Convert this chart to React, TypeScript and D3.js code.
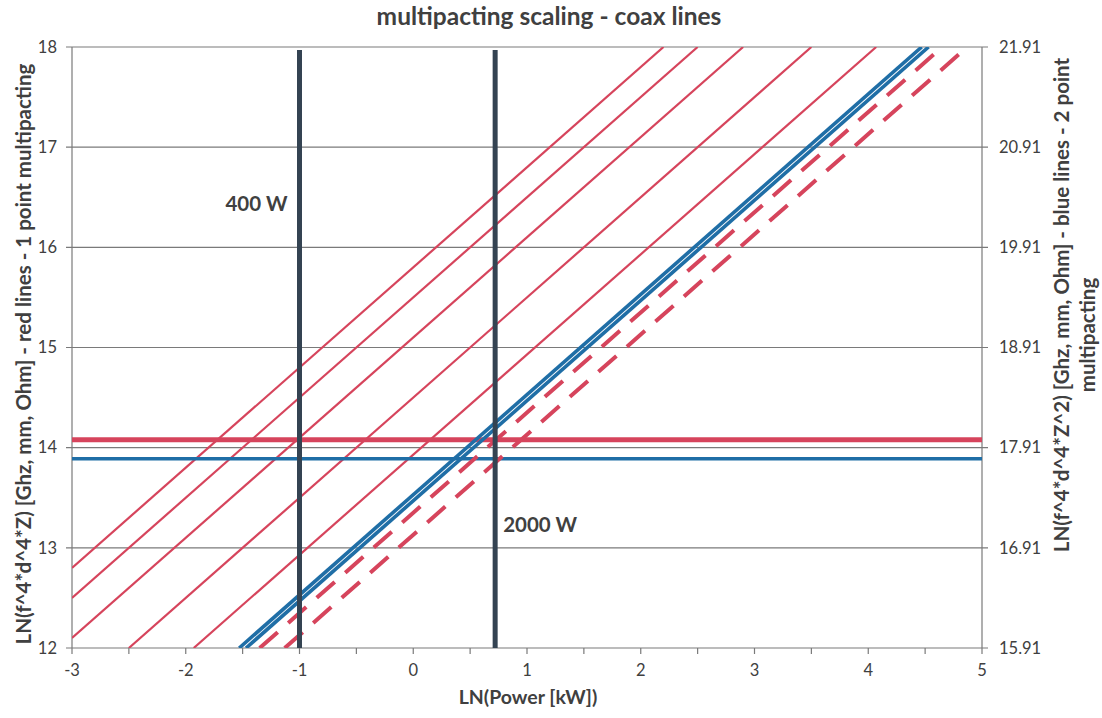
import React from "react";
import * as d3 from "d3";

// values
const xTicks = [-3, -2, -1, 0, 1, 2, 3, 4, 5];
const xMinorTicks = [-2.5, -1.5, -0.5, 0.5, 1.5, 2.5, 3.5, 4.5];
const yTicks = [12, 13, 14, 15, 16, 17, 18];
const yRightLabels = ["15.91", "16.91", "17.91", "18.91", "19.91", "20.91", "21.91"];

// 1 point multipacting (thin red)
const redLines: [number, number][][] = [
  [[-3, 12.8], [2.2, 18]],
  [[-3, 12.5], [2.5, 18]],
  [[-3, 12.1], [2.9, 18]],
  [[-2.5, 12], [3.5, 18]],
  [[-1.93, 12], [4.07, 18]],
];
// 2 point multipacting (blue pair)
const blueLines: [number, number][][] = [
  [[-1.53, 12], [4.47, 18]],
  [[-1.47, 12], [4.53, 18]],
];
const dashedLines: [number, number][][] = [
  [[-1.35, 12], [4.65, 18]],
  [[-1.13, 12], [4.87, 18]],
];
const redLevel: [number, number][] = [[-3, 14.08], [5, 14.08]];
const blueLevel: [number, number][] = [[-3, 13.89], [5, 13.89]];
const powerMarks = [
  { x: -1, label: "400 W" },
  { x: 0.72, label: "2000 W" },
];

const RED = "#d6445c";
const BLUE = "#1f6ea6";
const DARK = "#344352";
const TXT = "#404040";
const FONT = "Lato, 'Open Sans', sans-serif";

export default function App() {
  const W = 1102, H = 718;
  const margin = { top: 47, right: 120, bottom: 70, left: 72 };
  const width = 982 - margin.left, height = 648 - margin.top;

  const x = d3.scaleLinear().domain([-3, 5]).range([0, width]);
  const y = d3.scaleLinear().domain([12, 18]).range([height, 0]);
  const line = d3.line<[number, number]>().x(d => x(d[0])).y(d => y(d[1]));

  return (
    <svg width={W} height={H} style={{ position: "absolute", left: 0, top: 0, background: "#fff" }}>
      <text x={549} y={25} textAnchor="middle" fontFamily={FONT} fontWeight="bold" fontSize={24.5} fill={TXT}>
        multipacting scaling - coax lines
      </text>
      <g transform={`translate(${margin.left},${margin.top})`}>
        <defs>
          <clipPath id="plot">
            <rect x={0} y={0} width={width} height={height} />
          </clipPath>
        </defs>
        {yTicks.map(t => (
          <g key={t}>
            <line x1={-6} x2={width + 6} y1={y(t)} y2={y(t)} stroke="#7a7a7a" strokeWidth={1.2} />
            <text x={-15} y={y(t)} dy="0.35em" textAnchor="end" fontFamily={FONT} fontSize={16.5} fill={TXT}>{t}</text>
          </g>
        ))}
        {yRightLabels.map((l, i) => (
          <text key={l} x={width + 17} y={y(yTicks[i])} dy="0.35em" fontFamily={FONT} fontSize={16.5} fill={TXT}>{l}</text>
        ))}
        <line x1={0} x2={0} y1={0} y2={height} stroke="#7a7a7a" strokeWidth={1.2} />
        <line x1={width} x2={width} y1={0} y2={height} stroke="#7a7a7a" strokeWidth={1.2} />
        {xTicks.concat(xMinorTicks).map(t => (
          <line key={t} x1={x(t)} x2={x(t)} y1={height} y2={height + 6} stroke="#7a7a7a" strokeWidth={1.2} />
        ))}
        {xTicks.map(t => (
          <text key={t} x={x(t)} y={height + 28} textAnchor="middle" fontFamily={FONT} fontSize={16.5} fill={TXT}>{t}</text>
        ))}

        <g clipPath="url(#plot)" fill="none">
          {redLines.map((d, i) => (
            <path key={i} d={line(d) || ""} stroke={RED} strokeWidth={2.2} />
          ))}
          <path d={line(redLevel) || ""} stroke={RED} strokeWidth={5} />
          <path d={line(blueLevel) || ""} stroke={BLUE} strokeWidth={3.5} />
          {dashedLines.map((d, i) => (
            <path key={i} d={line(d) || ""} stroke={RED} strokeWidth={4} strokeDasharray="24 14" />
          ))}
          {blueLines.map((d, i) => (
            <path key={i} d={line(d) || ""} stroke={BLUE} strokeWidth={3.6} />
          ))}
          {powerMarks.map(m => (
            <line key={m.x} x1={x(m.x)} x2={x(m.x)} y1={y(17.97)} y2={height} stroke={DARK} strokeWidth={5} />
          ))}
        </g>

        <text x={x(powerMarks[0].x) - 12} y={y(16.36)} textAnchor="end" fontFamily={FONT} fontWeight="bold" fontSize={20.5} fill={TXT}>
          {powerMarks[0].label}
        </text>
        <text x={x(powerMarks[1].x) + 8} y={y(13.16)} fontFamily={FONT} fontWeight="bold" fontSize={20.5} fill={TXT}>
          {powerMarks[1].label}
        </text>
      </g>

      <text x={528} y={704} textAnchor="middle" fontFamily={FONT} fontWeight="bold" fontSize={19.5} fill={TXT}>
        LN(Power [kW])
      </text>
      <text transform="translate(31,354) rotate(-90)" textAnchor="middle" fontFamily={FONT} fontWeight="bold" fontSize={20.5} fill={TXT}>
        LN(f^4*d^4*Z) [Ghz, mm, Ohm] - red lines - 1 point multipacting
      </text>
      <text transform="translate(1069,305) rotate(-90)" textAnchor="middle" fontFamily={FONT} fontWeight="bold" fontSize={20.5} fill={TXT}>
        LN(f^4*d^4*Z^2) [Ghz, mm, Ohm] - blue lines - 2 point
      </text>
      <text transform="translate(1095,335) rotate(-90)" textAnchor="middle" fontFamily={FONT} fontWeight="bold" fontSize={20.5} fill={TXT}>
        multipacting
      </text>
    </svg>
  );
}
